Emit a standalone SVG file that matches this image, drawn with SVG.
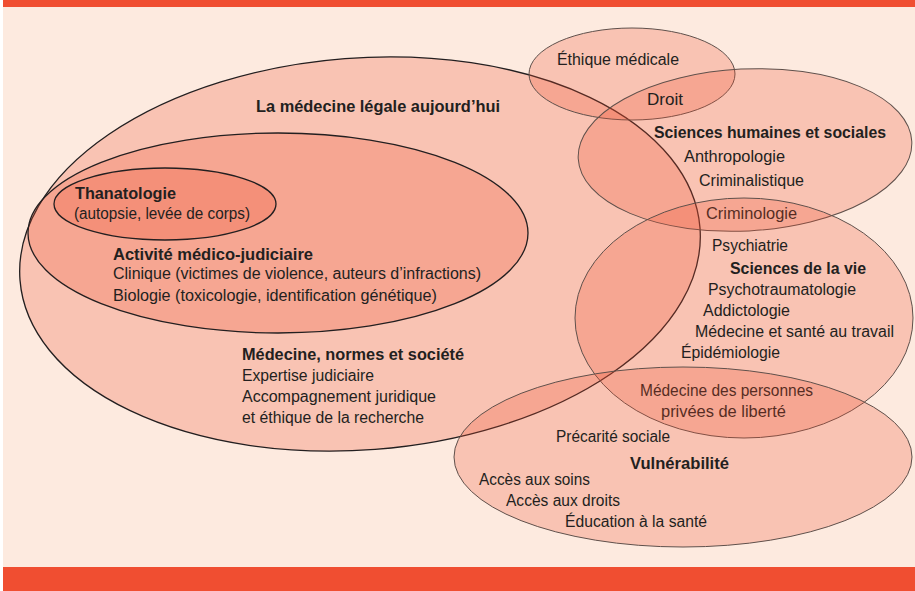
<svg xmlns="http://www.w3.org/2000/svg" width="915" height="591" viewBox="0 0 915 591">
<style>
.e{fill:#f04e31;fill-opacity:0.25;}
.k{stroke:#231f20;stroke-width:1.3;}
.g{stroke:#5f504b;stroke-width:1;}
text{font-family:"Liberation Sans","Open Sans",sans-serif;font-size:16px;fill:#231f20;}
.b{font-weight:bold;}
</style>
<rect x="0" y="0" width="915" height="591" fill="#ffffff"/>
<rect x="3" y="0" width="912" height="591" fill="#fdeadf"/>
<rect x="3" y="0" width="912" height="7" fill="#f04e31"/>
<rect x="3" y="567" width="912" height="24" fill="#f04e31"/>
<g id="medecine-legale">
<ellipse class="e k" cx="360" cy="254" rx="341" ry="196" transform="rotate(-4.4 360 254)"/>
<text class="b" x="256" y="112" textLength="244" lengthAdjust="spacingAndGlyphs">La médecine légale aujourd’hui</text>
<text class="b" x="242" y="360" textLength="222" lengthAdjust="spacingAndGlyphs">Médecine, normes et société</text>
<text x="242" y="381" textLength="132" lengthAdjust="spacingAndGlyphs">Expertise judiciaire</text>
<text x="242" y="402" textLength="194" lengthAdjust="spacingAndGlyphs">Accompagnement juridique</text>
<text x="242" y="423" textLength="182" lengthAdjust="spacingAndGlyphs">et éthique de la recherche</text>
</g>
<g id="activite">
<ellipse class="e k" cx="278" cy="233" rx="250" ry="100"/>
<text class="b" x="113" y="260" textLength="200" lengthAdjust="spacingAndGlyphs">Activité médico-judiciaire</text>
<text x="113" y="279" textLength="368" lengthAdjust="spacingAndGlyphs">Clinique (victimes de violence, auteurs d’infractions)</text>
<text x="113" y="301" textLength="324" lengthAdjust="spacingAndGlyphs">Biologie (toxicologie, identification génétique)</text>
</g>
<g id="thanatologie">
<ellipse class="e k" cx="165" cy="204" rx="111" ry="36"/>
<text class="b" x="75" y="199" textLength="101" lengthAdjust="spacingAndGlyphs">Thanatologie</text>
<text x="74" y="219" textLength="176" lengthAdjust="spacingAndGlyphs">(autopsie, levée de corps)</text>
</g>
<g id="ethique">
<ellipse class="e g" cx="632" cy="74" rx="103" ry="46"/>
<text x="557" y="65" textLength="122" lengthAdjust="spacingAndGlyphs">Éthique médicale</text>
</g>
<g id="sciences-humaines">
<ellipse class="e g" cx="745" cy="150" rx="167" ry="81" transform="rotate(-3 745 150)"/>
<text x="647" y="105" textLength="36" lengthAdjust="spacingAndGlyphs">Droit</text>
<text class="b" x="654" y="138" textLength="232" lengthAdjust="spacingAndGlyphs">Sciences humaines et sociales</text>
<text x="684" y="162" textLength="101" lengthAdjust="spacingAndGlyphs">Anthropologie</text>
<text x="699" y="186" textLength="105" lengthAdjust="spacingAndGlyphs">Criminalistique</text>
<text x="706" y="219" textLength="91" lengthAdjust="spacingAndGlyphs">Criminologie</text>
</g>
<g id="sciences-vie">
<ellipse class="e g" cx="744" cy="318" rx="169" ry="120"/>
<text x="712" y="251" textLength="76" lengthAdjust="spacingAndGlyphs">Psychiatrie</text>
<text class="b" x="730" y="274" textLength="136" lengthAdjust="spacingAndGlyphs">Sciences de la vie</text>
<text x="708" y="295" textLength="148" lengthAdjust="spacingAndGlyphs">Psychotraumatologie</text>
<text x="703" y="316" textLength="87" lengthAdjust="spacingAndGlyphs">Addictologie</text>
<text x="695" y="337" textLength="199" lengthAdjust="spacingAndGlyphs">Médecine et santé au travail</text>
<text x="681" y="358" textLength="99" lengthAdjust="spacingAndGlyphs">Épidémiologie</text>
<text x="640" y="396" textLength="173" lengthAdjust="spacingAndGlyphs">Médecine des personnes</text>
<text x="661" y="417" textLength="125" lengthAdjust="spacingAndGlyphs">privées de liberté</text>
</g>
<g id="vulnerabilite">
<ellipse class="e g" cx="683" cy="457" rx="229" ry="90"/>
<text x="556" y="442" textLength="114" lengthAdjust="spacingAndGlyphs">Précarité sociale</text>
<text class="b" x="630" y="469" textLength="99" lengthAdjust="spacingAndGlyphs">Vulnérabilité</text>
<text x="479" y="485" textLength="111" lengthAdjust="spacingAndGlyphs">Accès aux soins</text>
<text x="506" y="506" textLength="114" lengthAdjust="spacingAndGlyphs">Accès aux droits</text>
<text x="565" y="527" textLength="142" lengthAdjust="spacingAndGlyphs">Éducation à la santé</text>
</g>
<g id="connectors"></g>
</svg>
